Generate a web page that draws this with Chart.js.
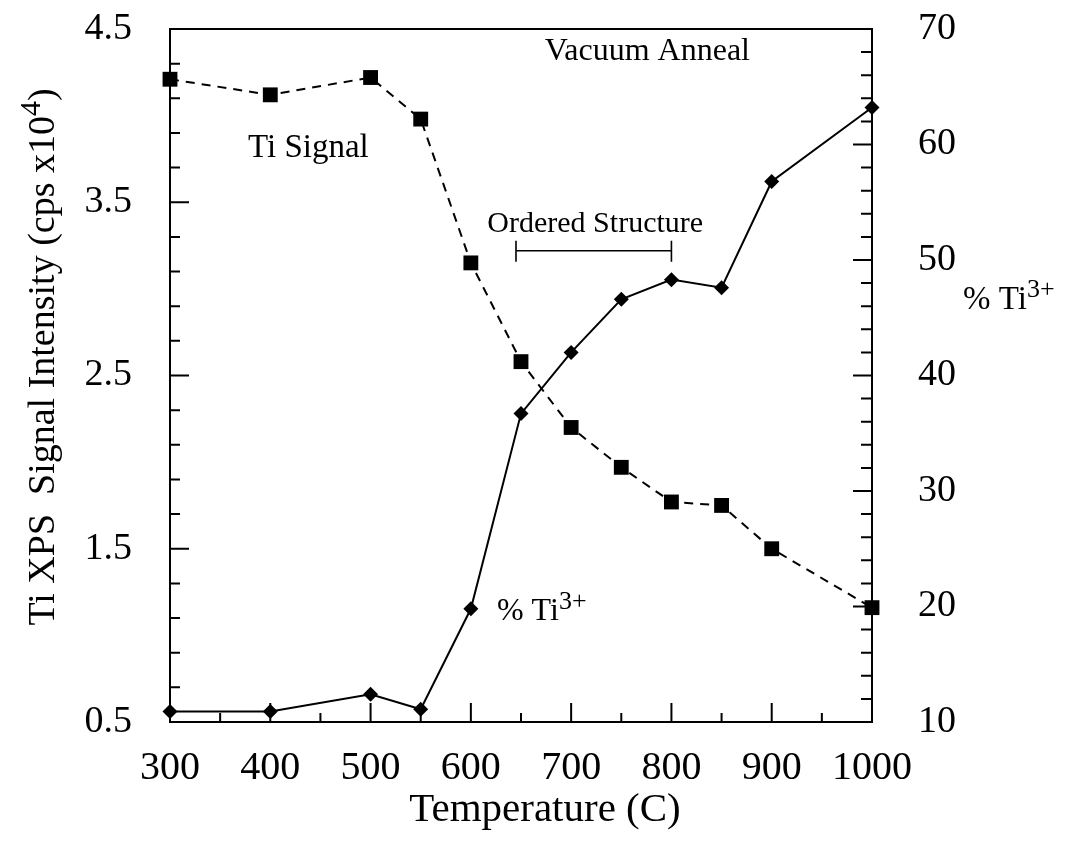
<!DOCTYPE html>
<html>
<head>
<meta charset="utf-8">
<script src="https://cdn.jsdelivr.net/npm/chart.js@4.4.0/dist/chart.umd.min.js"></script>
<style>
  html, body { margin: 0; padding: 0; background: #fff; }
</style>
</head>
<body>
<canvas id="grafico" width="1069" height="846"></canvas>
<script>
// datos: temperatura de recocido en vacio
const temperaturas = [300, 400, 500, 550, 600, 650, 700, 750, 800, 850, 900, 1000];
const senalTi = [4.21, 4.12, 4.22, 3.98, 3.15, 2.58, 2.20, 1.97, 1.77, 1.75, 1.50, 1.16];
const porcentajeTi3 = [10.9, 10.9, 12.4, 11.1, 19.8, 36.7, 42.0, 46.6, 48.3, 47.6, 56.8, 63.2];
const ticksX = [300, 400, 500, 600, 700, 800, 900, 1000];
const ticksIzq = [0.5, 1.5, 2.5, 3.5, 4.5];
const ticksDer = [10, 20, 30, 40, 50, 60, 70];
const estructuraOrdenada = [645, 800];

const fuente = "'Liberation Serif', 'Times New Roman', serif";

function puntos(ys) {
  return temperaturas.map((t, i) => ({ x: t, y: ys[i] }));
}

// texto con superindice al final
function textoSup(ctx, x, y, base, sup, tam, resto) {
  ctx.font = tam + "px " + fuente;
  ctx.fillText(base, x, y);
  var w = ctx.measureText(base).width;
  ctx.font = Math.round(tam * 0.8) + "px " + fuente;
  ctx.fillText(sup, x + w, y - tam * 0.36);
  var ws = ctx.measureText(sup).width;
  if (resto) {
    ctx.font = tam + "px " + fuente;
    ctx.fillText(resto, x + w + ws, y);
  }
}

function anchoSup(ctx, base, sup, tam, resto) {
  ctx.font = tam + "px " + fuente;
  var w = ctx.measureText(base).width + (resto ? ctx.measureText(resto).width : 0);
  ctx.font = Math.round(tam * 0.8) + "px " + fuente;
  return w + ctx.measureText(sup).width;
}

// sin relleno extra de las etiquetas, el area la fija el layout
function sinRelleno(s) {
  s.paddingTop = 0;
  s.paddingBottom = 0;
  s.paddingLeft = 0;
  s.paddingRight = 0;
}

// marco, marcas hacia dentro y rotulos
const marcasYTextos = {
  id: "marcasYTextos",
  afterDraw(chart) {
    const ctx = chart.ctx;
    const a = chart.chartArea;
    const x = chart.scales.x, yI = chart.scales.yIzq, yD = chart.scales.yDer;
    ctx.save();
    ctx.strokeStyle = "#000";
    ctx.fillStyle = "#000";
    ctx.lineWidth = 2;

    ctx.beginPath();
    ctx.moveTo(a.left - 1, a.top);
    ctx.lineTo(a.right + 1, a.top);
    ctx.stroke();

    ctx.beginPath();
    for (let i = 0; i <= 14; i++) {
      const px = x.getPixelForValue(x.min + i * 50);
      const l = i % 2 === 0 ? 19 : 9;
      ctx.moveTo(px, a.bottom);
      ctx.lineTo(px, a.bottom - l);
    }
    for (let i = 0; i <= 20; i++) {
      const py = yI.getPixelForValue(yI.min + i * 0.2);
      const l = i % 5 === 0 ? 19 : 10;
      ctx.moveTo(a.left, py);
      ctx.lineTo(a.left + l, py);
    }
    for (let i = 0; i <= 30; i++) {
      const py = yD.getPixelForValue(yD.min + i * 2);
      const l = i % 5 === 0 ? 19 : 11;
      ctx.moveTo(a.right, py);
      ctx.lineTo(a.right - l, py);
    }
    ctx.stroke();

    // rango de estructura ordenada
    const bx1 = x.getPixelForValue(estructuraOrdenada[0]);
    const bx2 = x.getPixelForValue(estructuraOrdenada[1]);
    const by = yI.getPixelForValue(3.22);
    ctx.lineWidth = 1.6;
    ctx.beginPath();
    ctx.moveTo(bx1, by); ctx.lineTo(bx2, by);
    ctx.moveTo(bx1, by - 10); ctx.lineTo(bx1, by + 11);
    ctx.moveTo(bx2, by - 10); ctx.lineTo(bx2, by + 11);
    ctx.stroke();

    ctx.textBaseline = "alphabetic";
    ctx.textAlign = "center";
    ctx.font = "32px " + fuente;
    ctx.fillText("Vacuum Anneal", x.getPixelForValue(776), yI.getPixelForValue(4.32));
    ctx.font = "33px " + fuente;
    ctx.fillText("Ti Signal", x.getPixelForValue(438), yI.getPixelForValue(3.76));
    ctx.font = "30px " + fuente;
    ctx.fillText("Ordered Structure", x.getPixelForValue(724), yI.getPixelForValue(3.33));

    ctx.textAlign = "left";
    textoSup(ctx, x.getPixelForValue(626), yD.getPixelForValue(18.8), "% Ti", "3+", 32);
    textoSup(ctx, a.right + 91, yD.getPixelForValue(45.8), "% Ti", "3+", 33);

    // titulo eje izquierdo
    ctx.save();
    ctx.translate(54, 357);
    ctx.rotate(-Math.PI / 2);
    const base = "Ti XPS  Signal Intensity (cps x10";
    const w = anchoSup(ctx, base, "4", 38, ")");
    textoSup(ctx, -w / 2, 0, base, "4", 38, ")");
    ctx.restore();

    // titulo eje x
    ctx.textAlign = "center";
    ctx.font = "41px " + fuente;
    ctx.fillText("Temperature (C)", (a.left + a.right) / 2 + 24, 821);
    ctx.restore();
  }
};

new Chart(document.getElementById("grafico"), {
  type: "line",
  data: {
    datasets: [{
      label: "Ti Signal",
      data: puntos(senalTi),
      yAxisID: "yIzq",
      borderColor: "#000",
      backgroundColor: "#000",
      borderWidth: 2,
      borderDash: [9, 7],
      pointStyle: "rect",
      pointRadius: 10.5,
      pointBorderWidth: 0,
      tension: 0,
      clip: false
    }, {
      label: "% Ti3+",
      data: puntos(porcentajeTi3),
      yAxisID: "yDer",
      borderColor: "#000",
      backgroundColor: "#000",
      borderWidth: 2,
      pointStyle: "rectRot",
      pointRadius: 7.5,
      pointBorderWidth: 0,
      tension: 0,
      clip: false
    }]
  },
  options: {
    responsive: false,
    animation: false,
    events: [],
    layout: { padding: { top: 29, left: 0, right: 0, bottom: 0 } },
    plugins: { legend: { display: false }, tooltip: { enabled: false } },
    scales: {
      x: {
        type: "linear",
        min: 300,
        max: 1000,
        afterBuildTicks: s => { s.ticks = ticksX.map(v => ({ value: v })); },
        afterFit: s => { s.height = 124; sinRelleno(s); },
        grid: { display: false, drawTicks: false },
        border: { display: true, color: "#000", width: 2 },
        ticks: { color: "#000", padding: 22, font: { family: fuente, size: 40 }, callback: v => String(v) }
      },
      yIzq: {
        type: "linear",
        position: "left",
        min: 0.5,
        max: 4.5,
        afterBuildTicks: s => { s.ticks = ticksIzq.map(v => ({ value: v })); },
        afterFit: s => { s.width = 170; sinRelleno(s); },
        grid: { display: false, drawTicks: false },
        border: { display: true, color: "#000", width: 2 },
        ticks: { color: "#000", padding: 38, font: { family: fuente, size: 38 }, callback: v => v.toFixed(1) }
      },
      yDer: {
        type: "linear",
        position: "right",
        min: 10,
        max: 70,
        afterBuildTicks: s => { s.ticks = ticksDer.map(v => ({ value: v })); },
        afterFit: s => { s.width = 197; sinRelleno(s); },
        grid: { display: false, drawTicks: false },
        border: { display: true, color: "#000", width: 2 },
        ticks: { color: "#000", padding: 46, font: { family: fuente, size: 38 } }
      }
    }
  },
  plugins: [marcasYTextos]
});
</script>
</body>
</html>
